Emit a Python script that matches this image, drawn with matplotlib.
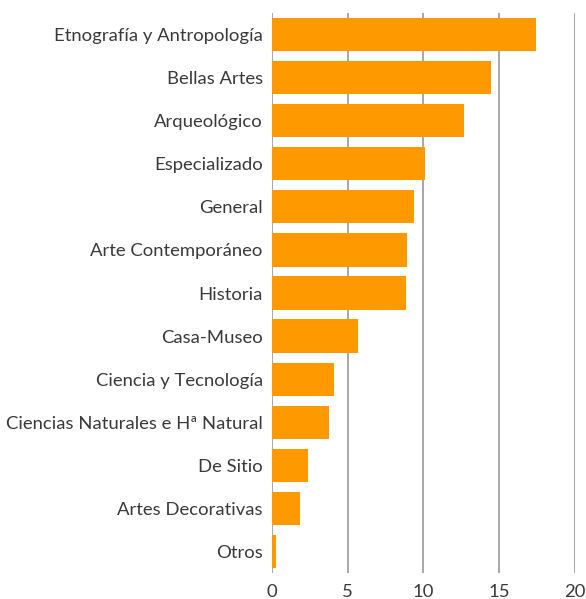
import matplotlib
matplotlib.use("Agg")
import matplotlib.pyplot as plt

categories = [
    "Etnografía y Antropología",
    "Bellas Artes",
    "Arqueológico",
    "Especializado",
    "General",
    "Arte Contemporáneo",
    "Historia",
    "Casa-Museo",
    "Ciencia y Tecnología",
    "Ciencias Naturales e Hª Natural",
    "De Sitio",
    "Artes Decorativas",
    "Otros",
]
values = [17.4, 14.47, 12.67, 10.09, 9.36, 8.9, 8.84, 5.68, 4.1, 3.77, 2.41, 1.88, 0.28]
x_ticks = [0, 5, 10, 15, 20]

plt.rcParams['font.family'] = ['Lato', 'DejaVu Sans']

fig = plt.figure(figsize=(5.86, 5.99), dpi=100)
ax = fig.add_axes([0.4636, 0.0434, 0.5181, 0.9349])

pos = list(range(len(categories)))
ax.barh(pos, values, height=0.77, color="#FF9900", zorder=3)

ax.set_xlim(0, 20)
ax.set_ylim(len(categories) - 0.5, -0.5)
ax.set_xticks(x_ticks)
ax.set_xticklabels([str(t) for t in x_ticks])
ax.set_yticks(pos)
ax.set_yticklabels(categories)

for t in x_ticks:
    ax.axvline(t, color="#999999", linewidth=1.2, zorder=1)

for s in ax.spines.values():
    s.set_visible(False)
ax.tick_params(axis="both", length=0, labelsize=13.3, labelcolor="#3a3a3a")
ax.tick_params(axis="y", pad=6.5)
ax.tick_params(axis="x", pad=8)

fig.savefig("out.png", dpi=100)
